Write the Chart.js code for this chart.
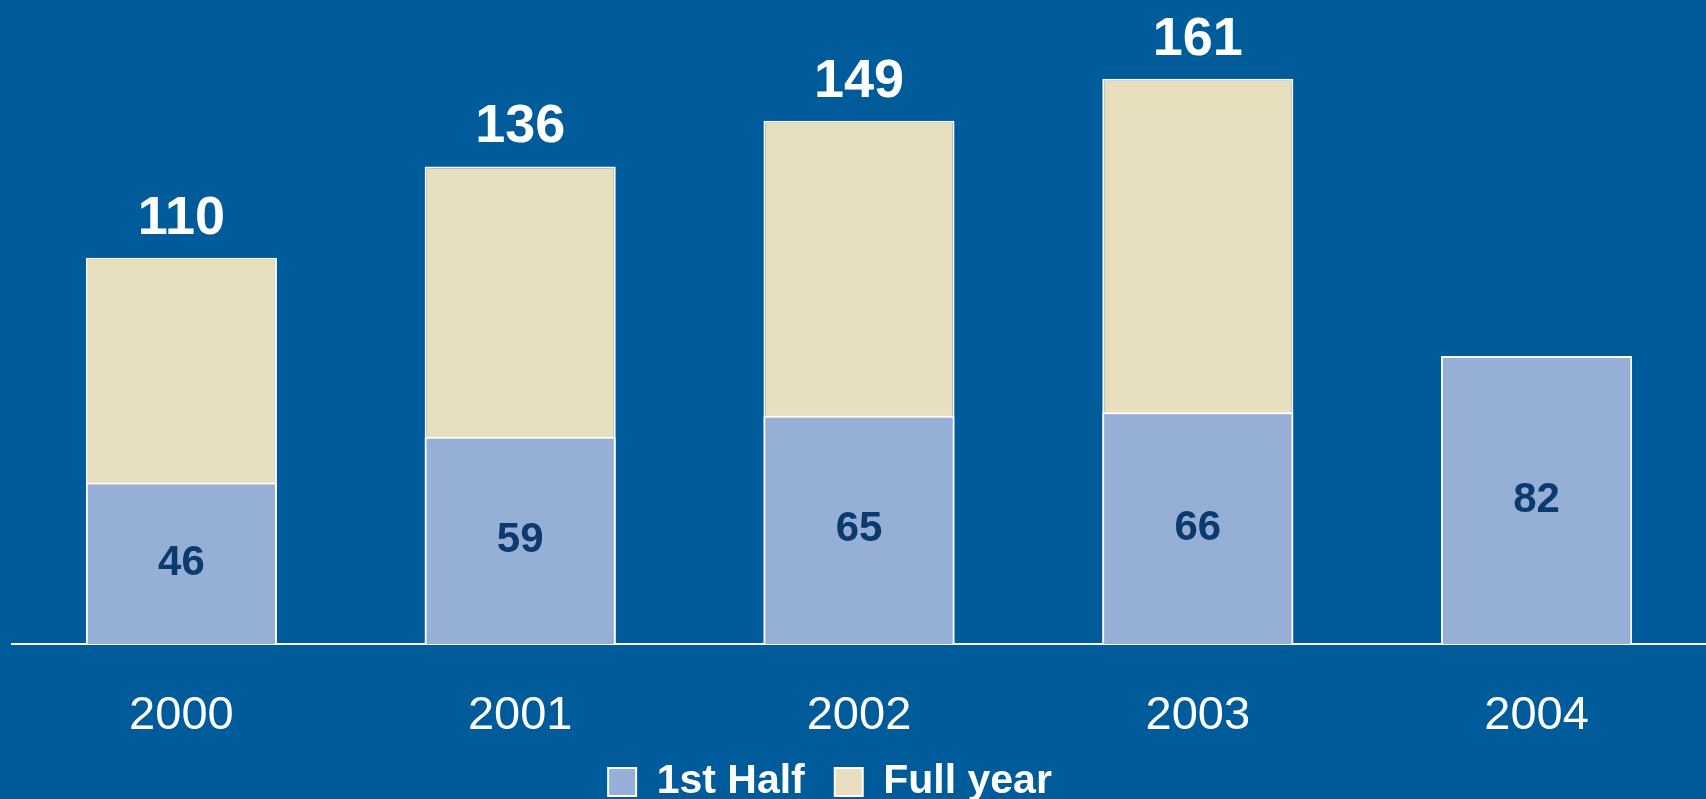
<!DOCTYPE html>
<html>
<head>
<meta charset="utf-8">
<script src="https://cdn.jsdelivr.net/npm/chart.js@4"></script>
<style>
  html, body { margin: 0; padding: 0; background: #005B9A; }
  #wrap { width: 1706px; height: 799px; }
</style>
</head>
<body>
<div id="wrap"><canvas id="chart"></canvas></div>
<script>
const years = ["2000", "2001", "2002", "2003", "2004"]
const firstHalf = [46, 59, 65, 66, 82]
const fullYear = [110, 136, 149, 161, null]

const FONT = "'Liberation Sans', Arial, sans-serif"

// value labels: totals above the bar, first half centred in its bar
const valueLabels = {
  id: "valueLabels",
  afterDatasetsDraw(chart) {
    const ctx = chart.ctx
    ctx.save()
    ctx.textAlign = "center"

    const halfMeta = chart.getDatasetMeta(0)
    ctx.fillStyle = "#0B3A6E"
    ctx.font = "bold 42px " + FONT
    ctx.textBaseline = "middle"
    halfMeta.data.forEach((bar, i) => {
      if (firstHalf[i] == null) return
      ctx.fillText(String(firstHalf[i]), bar.x, (bar.y + bar.base) / 2)
    })

    const fullMeta = chart.getDatasetMeta(1)
    ctx.fillStyle = "#ffffff"
    ctx.font = "bold 54px " + FONT
    ctx.textBaseline = "alphabetic"
    fullMeta.data.forEach((bar, i) => {
      if (fullYear[i] == null) return
      ctx.fillText(String(fullYear[i]), bar.x, bar.y - 24)
    })
    ctx.restore()
  }
}

// the legend sits a bit left of centre in the original
const legendShift = {
  id: "legendShift",
  afterLayout(chart) {
    chart.legend.left -= 29
    chart.legend.right -= 29
  }
}

new Chart(document.getElementById("chart"), {
  type: "bar",
  data: {
    labels: years,
    datasets: [
      {
        label: "1st Half",
        data: firstHalf,
        backgroundColor: "#96AFD6",
        borderColor: "#ffffff",
        borderWidth: 2,
        borderSkipped: "bottom"
      },
      {
        label: "Full year",
        data: fullYear,
        backgroundColor: "#E7DFBE",
        borderColor: "#ffffff",
        borderWidth: 2,
        borderSkipped: "bottom"
      }
    ]
  },
  options: {
    responsive: true,
    maintainAspectRatio: false,
    animation: false,
    datasets: {
      bar: { grouped: false, categoryPercentage: 1, barPercentage: 0.564 }
    },
    layout: { padding: { left: 12, right: 0, top: 12, bottom: -13.5 } },
    scales: {
      x: {
        grid: { display: false, drawTicks: false },
        border: { display: true, color: "#ffffff", width: 2 },
        ticks: {
          color: "#ffffff",
          padding: 43.8,
          font: { family: FONT, size: 47 }
        },
        afterFit(scale) { scale.height = 87.5 }
      },
      y: {
        display: false,
        min: 0,
        max: 180
      }
    },
    plugins: {
      legend: {
        position: "bottom",
        labels: {
          color: "#ffffff",
          boxWidth: 28,
          boxHeight: 28,
          padding: 30,
          font: { family: FONT, size: 41, weight: "bold", lineHeight: 1 }
        }
      },
      tooltip: { enabled: false }
    }
  },
  plugins: [valueLabels, legendShift]
})
</script>
</body>
</html>
